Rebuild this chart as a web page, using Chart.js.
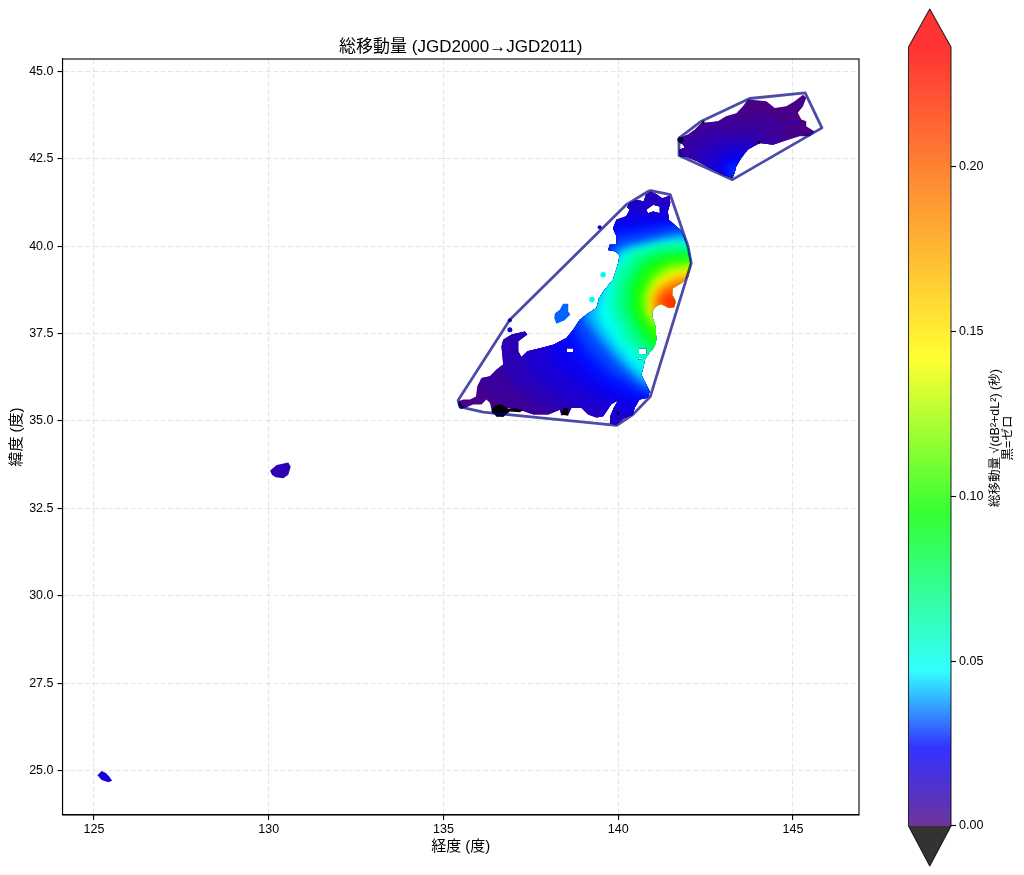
<!DOCTYPE html>
<html lang="ja">
<head>
<meta charset="utf-8">
<title>総移動量</title>
<script src="https://cdn.jsdelivr.net/npm/chart.js@4"></script>
<style>
html,body{margin:0;padding:0;background:#fff;width:1024px;height:875px;overflow:hidden}
canvas{position:absolute;top:0}
#map{left:0}
#bar{left:890px}
</style>
</head>
<body>
<canvas id="map" width="890" height="875"></canvas>
<canvas id="bar" width="134" height="875"></canvas>
<script>
const FONT = '"Liberation Sans","Noto Sans CJK JP",sans-serif';
const chartTitle = '総移動量 (JGD2000→JGD2011)';
const xLabel = '経度 (度)';
const yLabel = '緯度 (度)';
const barLabels = ['総移動量 √(dB²+dL²) (秒)', '黒=ゼロ'];
const xTicks = [125, 130, 135, 140, 145];
const yTicks = [25, 27.5, 30, 32.5, 35, 37.5, 40, 42.5, 45];
const barTicks = [0, 0.05, 0.10, 0.15, 0.20];
const valueMax = 0.2364;
const cmapStops = [0, 0.1, 0.2, 0.4, 0.6, 1];
const cmapColors = [[75,0,130],[0,0,255],[0,255,255],[0,255,0],[255,255,0],[255,0,0]];

const honshuHull = [[140.90,41.59],[141.49,41.47],[142.00,39.99],[142.09,39.51],[140.92,35.70],[140.42,35.18],[139.95,34.87],[136.14,35.25],[135.47,35.40],[135.42,35.59],[136.90,37.89],[140.23,41.18],[140.90,41.59]];
const hokkaidoHull = [[141.74,43.09],[142.38,43.57],[143.76,44.22],[145.35,44.38],[145.83,43.38],[143.27,41.90],[141.74,42.59],[141.74,43.09]];

const honshuLand = [[140.25,41.11],[140.33,41.23],[140.52,41.32],[140.73,41.28],[140.79,41.47],[140.92,41.56],[141.09,41.49],[141.26,41.37],[141.47,41.44],[141.49,41.23],[141.42,40.99],[141.45,40.75],[141.61,40.61],[141.78,40.47],[141.90,40.23],[142.00,39.94],[142.06,39.66],[142.06,39.37],[142.00,39.13],[141.80,38.94],[141.57,38.80],[141.54,38.61],[141.64,38.42],[141.61,38.26],[141.45,38.23],[141.23,38.34],[141.09,38.28],[140.97,38.13],[140.97,37.99],[141.07,37.70],[141.09,37.32],[141.04,37.13],[140.85,36.89],[140.76,36.75],[140.73,36.56],[140.66,36.32],[140.76,36.13],[140.90,35.85],[140.85,35.66],[140.61,35.61],[140.47,35.37],[140.42,35.18],[140.14,35.06],[139.95,34.89],[139.76,34.92],[139.78,35.15],[139.87,35.37],[140.00,35.59],[139.80,35.48],[139.71,35.34],[139.57,35.13],[139.38,35.10],[139.14,35.18],[138.95,35.37],[138.66,35.37],[138.57,35.18],[138.38,35.16],[138.33,35.32],[138.00,35.18],[137.57,35.18],[137.28,35.28],[137.04,35.32],[136.85,35.36],[136.71,35.13],[136.52,35.11],[136.38,35.30],[136.33,35.51],[136.23,35.61],[136.09,35.47],[135.85,35.47],[135.61,35.37],[135.47,35.40],[135.42,35.56],[135.57,35.61],[135.76,35.61],[135.93,35.70],[135.97,35.99],[136.09,36.23],[136.33,36.28],[136.52,36.47],[136.71,36.61],[136.69,36.85],[136.66,37.13],[136.71,37.32],[136.95,37.47],[137.33,37.56],[137.40,37.47],[137.14,37.28],[137.14,36.99],[137.23,36.83],[137.40,36.99],[137.76,37.08],[138.14,37.18],[138.52,37.37],[138.71,37.61],[138.90,37.89],[139.14,38.08],[139.38,38.23],[139.45,38.51],[139.61,38.75],[139.85,39.04],[140.00,39.51],[140.04,39.75],[139.90,39.85],[139.71,39.89],[139.76,40.04],[139.95,40.04],[139.95,40.28],[139.85,40.51],[139.95,40.75],[140.23,40.85],[140.33,41.04]];
const mutsuBay = [[140.80,41.04],[141.00,41.18],[141.19,41.13],[141.19,40.94],[141.00,40.99],[140.85,40.94]];
const inlandGapA = [[138.52,37.08],[138.71,37.08],[138.71,36.97],[138.52,36.97]];
const inlandGapB = [[140.59,37.08],[140.82,37.08],[140.82,36.91],[140.59,36.91]];
const inlandGapC = [[140.57,36.80],[140.66,36.80],[140.66,36.75],[140.57,36.75]];
const hokkaidoLand = [[141.76,43.09],[142.00,43.19],[142.19,43.33],[142.38,43.52],[142.62,43.54],[142.86,43.57],[143.09,43.71],[143.38,43.80],[143.57,44.00],[143.71,44.19],[143.95,44.17],[144.24,44.14],[144.48,43.95],[144.81,44.00],[145.05,44.14],[145.29,44.33],[145.38,44.24],[145.29,44.00],[145.14,43.81],[145.24,43.62],[145.38,43.57],[145.38,43.43],[145.62,43.28],[145.48,43.14],[145.19,43.14],[144.86,43.04],[144.43,42.90],[144.05,42.95],[143.71,42.76],[143.52,42.52],[143.38,42.28],[143.33,42.09],[143.27,41.95],[143.00,42.04],[142.62,42.23],[142.24,42.43],[141.95,42.55],[141.76,42.57],[141.74,42.76],[141.90,42.81],[141.86,42.90],[141.76,42.95]];

const honshuLevels = [0.22,0.20,0.18,0.16,0.14,0.12,0.10,0.085,0.07,0.06,0.05,0.04,0.03,0.025,0.02,0.015,0.01,0.005,0.001];
const honshuBands = [
 [[141.95,38.85],[141.57,38.66],[141.30,38.51],[141.26,38.26],[141.57,38.09],[142.14,38.18]],
 [[142.00,38.99],[141.57,38.85],[141.23,38.66],[141.11,38.37],[141.19,38.18],[141.66,37.99],[142.23,38.18]],
 [[142.09,39.13],[141.57,38.99],[141.17,38.75],[141.01,38.42],[141.04,38.13],[141.66,37.89],[142.33,38.18]],
 [[142.23,39.23],[141.57,39.13],[141.14,38.89],[140.97,38.51],[140.97,38.13],[141.57,37.80],[142.42,38.08]],
 [[142.52,39.42],[142.04,39.37],[141.52,39.26],[141.09,38.99],[140.90,38.51],[140.92,38.07],[141.47,37.70],[142.52,37.89]],
 [[142.52,39.56],[142.04,39.51],[141.47,39.47],[141.00,39.18],[140.71,38.66],[140.73,38.08],[141.09,37.61],[142.52,37.70]],
 [[142.52,39.70],[142.04,39.66],[141.42,39.66],[140.80,39.37],[140.52,38.80],[140.49,38.18],[140.85,37.51],[141.19,37.18],[142.52,37.42]],
 [[142.52,39.85],[142.04,39.80],[141.38,39.82],[140.71,39.56],[140.28,38.89],[140.28,38.18],[140.61,37.51],[141.09,36.94],[142.52,37.04]],
 [[142.52,39.97],[142.00,39.97],[141.28,39.97],[140.52,39.75],[140.04,39.04],[139.95,38.28],[140.38,37.37],[141.00,36.75],[142.52,36.75]],
 [[142.52,40.07],[142.00,40.07],[141.19,40.05],[140.33,39.85],[139.85,39.13],[139.76,38.28],[140.14,37.32],[140.90,36.56],[142.52,36.56]],
 [[142.52,40.23],[142.00,40.16],[141.57,40.13],[140.80,39.94],[140.09,39.80],[139.71,39.13],[139.47,38.56],[139.38,38.08],[139.47,37.80],[139.95,37.13],[140.42,36.56],[140.85,36.23],[142.52,36.27]],
 [[142.52,40.37],[141.57,40.32],[140.80,40.13],[140.04,39.94],[139.57,39.32],[139.19,38.47],[139.00,37.99],[139.38,37.42],[139.95,36.75],[140.71,36.04],[142.52,35.99]],
 [[142.52,40.56],[141.57,40.56],[140.80,40.42],[139.95,40.28],[139.38,39.32],[138.90,38.37],[138.71,37.70],[139.09,37.04],[139.76,36.37],[140.80,35.80],[142.52,35.70]],
 [[142.52,40.70],[141.57,40.70],[140.80,40.66],[139.85,40.56],[139.09,39.32],[138.52,38.37],[138.38,37.51],[138.71,36.85],[139.38,36.18],[140.23,35.70],[140.80,35.51],[142.52,35.42]],
 [[142.52,40.94],[141.57,40.94],[140.80,40.89],[139.76,40.85],[138.71,39.32],[138.14,38.18],[137.95,37.23],[138.14,36.56],[138.90,35.99],[139.95,35.42],[140.80,35.04],[142.52,34.94]],
 [[142.52,41.30],[141.57,41.30],[140.80,41.30],[139.66,41.30],[138.23,39.32],[137.47,38.08],[137.28,37.13],[137.47,36.37],[138.23,35.70],[139.66,35.04],[140.80,34.66],[142.52,34.56]],
 [[142.52,41.70],[141.57,41.70],[140.80,41.70],[139.47,41.70],[137.76,39.32],[136.71,37.89],[136.52,36.85],[136.90,36.09],[137.85,35.42],[139.47,34.56],[142.52,34.37]],
 [[142.52,41.80],[140.80,41.80],[139.28,41.80],[136.80,38.37],[135.85,36.85],[136.04,35.89],[137.76,34.85],[142.52,34.08]],
 [[135,41.9],[143,41.9],[143,34],[135,34]]
];
const hokkaidoLevels = [0.030,0.024,0.019,0.015,0.011,0.007,0.004,0.001];
const hokkaidoBands = [
 [[143.40,42.33],[143.21,42.26],[143.14,42.09],[143.33,41.90],[143.57,42.09]],
 [[143.48,42.52],[143.14,42.47],[142.95,42.14],[143.29,41.81],[143.71,42.19]],
 [[143.57,42.71],[143.05,42.62],[142.76,42.23],[143.24,41.71],[143.95,42.28]],
 [[143.71,42.90],[142.90,42.81],[142.43,42.38],[143.09,41.62],[144.14,42.38]],
 [[143.90,43.14],[142.71,43.04],[142.09,42.62],[142.90,41.52],[144.43,42.47]],
 [[144.05,43.33],[142.52,43.33],[141.76,42.95],[141.57,42.43],[142.90,41.42],[144.81,42.66]],
 [[144.24,43.71],[142.52,43.71],[141.48,43.14],[141.29,42.38],[142.90,41.33],[145.19,42.85]],
 [[141,45],[146,45],[146,41.92],[141,41.92]]
];
const hokkaidoStream = [[144.14,43.66],[144.43,43.57],[144.62,43.47],[144.86,43.52],[145.19,43.52]];
const streamValue = 0.017;

const zeroPatchA = [[136.38,35.32],[136.47,35.44],[136.66,35.47],[136.85,35.34],[137.04,35.36],[137.28,35.31],[137.19,35.25],[136.90,35.27],[136.71,35.11],[136.54,35.13],[136.38,35.23]];
const zeroPatchB = [[138.35,35.18],[138.44,35.37],[138.57,35.37],[138.57,35.15]];
const zeroPatchC = [[135.45,35.56],[135.59,35.37],[135.49,35.34],[135.42,35.47]];
const zeroDots = [[141.78,43.04],[142.43,43.55],[144.03,42.97],[140.00,35.22]];

const sadoIsland = [[138.19,38.08],[138.33,38.18],[138.42,38.35],[138.57,38.35],[138.57,38.13],[138.63,38.04],[138.47,37.88],[138.23,37.78],[138.17,37.94]];
const sadoValue = 0.033;
const kyushuPatch = [[130.04,33.58],[130.23,33.74],[130.56,33.81],[130.63,33.69],[130.56,33.46],[130.42,33.36],[130.20,33.39],[130.09,33.46]];
const kyushuValue = 0.009;
const okinawaPatch = [[125.10,24.87],[125.22,24.99],[125.33,24.94],[125.43,24.84],[125.52,24.71],[125.41,24.67],[125.22,24.73]];
const okinawaValue = 0.017;
const isletLon = [139.47,139.57,139.25,136.90,136.90];
const isletLat = [40.54,39.18,38.47,37.88,37.61];
const isletValue = [0.021,0.052,0.05,0.02,0.018];

function cmap(v, alpha) {
  const t = Math.min(1, Math.max(0, v / valueMax));
  let i = 0;
  while (i < cmapStops.length - 2 && t > cmapStops[i + 1]) i++;
  const f = (t - cmapStops[i]) / (cmapStops[i + 1] - cmapStops[i]);
  const c = cmapColors[i].map((a, k) => Math.round(a + (cmapColors[i + 1][k] - a) * f));
  return `rgba(${c[0]},${c[1]},${c[2]},${alpha === undefined ? 1 : alpha})`;
}
const pts = a => a.map(p => ({x: p[0], y: p[1]}));
const area = (data, color) => ({data: pts(data), showLine: true, fill: 'shape', backgroundColor: color, borderWidth: 0, pointRadius: 0});
const outline = (data, color, width) => ({data: pts(data), showLine: true, fill: false, borderColor: color, borderWidth: width, pointRadius: 0, borderJoinStyle: 'round'});

const hullColor = 'rgba(0,0,128,0.7)';
const topLayers = [
  outline(honshuHull, hullColor, 2.8),
  outline(hokkaidoHull, hullColor, 2.8),
  {data: pts(zeroDots), backgroundColor: '#000', borderWidth: 0, pointRadius: [3, 1.5, 1.5, 1.2]},
  area(zeroPatchA, '#000'), area(zeroPatchB, '#000'), area(zeroPatchC, '#000'),
  outline(hokkaidoStream, cmap(streamValue), 1),
  area(sadoIsland, cmap(sadoValue)),
  area(kyushuPatch, cmap(kyushuValue)),
  area(okinawaPatch, cmap(okinawaValue)),
  {data: isletLon.map((x, i) => ({x, y: isletLat[i]})), backgroundColor: isletValue.map(v => cmap(v)), borderWidth: 0, pointRadius: [2, 2.8, 2.8, 2, 2.5]}
];
const bandLayers = [
  ...honshuBands.map((b, i) => area(b, cmap(honshuLevels[i]))),
  ...hokkaidoBands.map((b, i) => area(b, cmap(hokkaidoLevels[i])))
];
const firstBand = topLayers.length;
const landRings = [honshuLand, hokkaidoLand, mutsuBay, inlandGapA, inlandGapB, inlandGapC];

const landClip = {
  id: 'landClip',
  beforeDatasetsDraw(chart) {
    const {ctx, scales: {x, y}} = chart;
    ctx.save();
    ctx.beginPath();
    landRings.forEach(r => {
      r.forEach((p, i) => {
        const px = x.getPixelForValue(p[0]), py = y.getPixelForValue(p[1]);
        i ? ctx.lineTo(px, py) : ctx.moveTo(px, py);
      });
      ctx.closePath();
    });
    ctx.clip('evenodd');
    ctx.filter = 'blur(5px)';
  },
  afterDatasetDraw(chart, args) {
    if (args.index === firstBand) chart.ctx.restore();
  }
};
const frame = {
  id: 'frame',
  afterDatasetsDraw(chart) {
    const {ctx, chartArea: a} = chart;
    ctx.save();
    ctx.strokeStyle = '#000';
    ctx.lineWidth = 1.1;
    ctx.strokeRect(a.left, a.top, a.right - a.left, a.bottom - a.top);
    ctx.restore();
  }
};
const setTicks = list => scale => { scale.ticks = list.map(value => ({value})); };
const gridStyle = {color: 'rgba(128,128,128,0.2)', lineWidth: 1.1, tickColor: '#000', tickWidth: 1.1, tickLength: 5};
const borderStyle = {display: true, color: '#000', width: 1.1, dash: [5, 2.5]};

new Chart(document.getElementById('map'), {
  type: 'scatter',
  data: {datasets: [...topLayers, ...bandLayers]},
  options: {
    responsive: false, animation: false, devicePixelRatio: 1,
    layout: {padding: {top: 0, right: 31, bottom: 0, left: 0}},
    plugins: {
      legend: {display: false},
      tooltip: {enabled: false},
      title: {display: true, fullSize: false, text: chartTitle, color: '#000', font: {family: FONT, size: 17, weight: 'normal'}, padding: {top: 37, bottom: 1.6}}
    },
    scales: {
      x: {
        type: 'linear', min: 124.10, max: 146.89,
        afterBuildTicks: setTicks(xTicks),
        afterFit: s => { s.height = 60; s.paddingLeft = 0; s.paddingRight = 0; },
        grid: gridStyle, border: borderStyle,
        ticks: {color: '#000', font: {family: FONT, size: 12.5}, padding: 2, maxRotation: 0, callback: v => String(v)},
        title: {display: true, text: xLabel, color: '#000', font: {family: FONT, size: 15}, padding: {top: 4, bottom: 19}}
      },
      y: {
        type: 'linear', min: 23.73, max: 45.35,
        afterBuildTicks: setTicks(yTicks),
        afterFit: s => { s.width = 62.5; s.paddingTop = 0; s.paddingBottom = 0; },
        grid: gridStyle, border: borderStyle,
        ticks: {color: '#000', font: {family: FONT, size: 12.5}, padding: 4, callback: v => v.toFixed(1)},
        title: {display: true, text: yLabel, color: '#000', font: {family: FONT, size: 15}, padding: {top: 8, bottom: 0}}
      }
    }
  },
  plugins: [landClip, frame]
});

const barLow = -0.01214, barHigh = 0.24795;
const barBody = [[0, 0], [1, 0], [1, valueMax], [0, valueMax]];
const barCapTop = [[0, valueMax], [0.5, barHigh], [1, valueMax]];
const barCapLow = [[0, 0], [0.5, barLow], [1, 0]];
const barEdge = [[0, 0], [0.5, barLow], [1, 0], [1, valueMax], [0.5, barHigh], [0, valueMax], [0, 0]];

function barGradient(ctx) {
  const chart = ctx.chart;
  if (!chart.chartArea) return 'rgba(0,0,0,0)';
  const y = chart.scales.y;
  const g = chart.ctx.createLinearGradient(0, y.getPixelForValue(0), 0, y.getPixelForValue(valueMax));
  cmapStops.forEach((s, i) => g.addColorStop(s, cmap(s * valueMax, 0.8)));
  return g;
}
const barTitle = {
  id: 'barTitle',
  afterDraw(chart) {
    const {ctx} = chart;
    ctx.save();
    ctx.fillStyle = '#000';
    ctx.font = '12.5px ' + FONT;
    ctx.textAlign = 'center';
    ctx.textBaseline = 'middle';
    barLabels.forEach((t, i) => {
      ctx.save();
      ctx.translate(106 + i * 13, 438);
      ctx.rotate(-Math.PI / 2);
      ctx.fillText(t, 0, 0);
      ctx.restore();
    });
    ctx.restore();
  }
};
new Chart(document.getElementById('bar'), {
  type: 'scatter',
  data: {datasets: [
    {...outline(barEdge, 'rgba(0,0,0,0.8)', 1.1), clip: false},
    area(barBody, barGradient),
    area(barCapTop, 'rgba(255,0,0,0.8)'),
    area(barCapLow, 'rgba(0,0,0,0.8)')
  ]},
  options: {
    responsive: false, animation: false, devicePixelRatio: 1,
    layout: {padding: {top: 9, right: 0, bottom: 9, left: 18.5}},
    plugins: {legend: {display: false}, tooltip: {enabled: false}},
    scales: {
      x: {type: 'linear', min: 0, max: 1, display: false},
      y: {
        type: 'linear', position: 'right', min: barLow, max: barHigh,
        afterBuildTicks: setTicks(barTicks),
        afterFit: s => { s.width = 73; s.paddingTop = 0; s.paddingBottom = 0; },
        grid: {drawOnChartArea: false, tickColor: '#000', tickWidth: 1.1, tickLength: 5},
        border: {display: false},
        ticks: {color: '#000', font: {family: FONT, size: 12.5}, padding: 3, callback: v => v.toFixed(2)}
      }
    }
  },
  plugins: [barTitle]
});
</script>
</body>
</html>
